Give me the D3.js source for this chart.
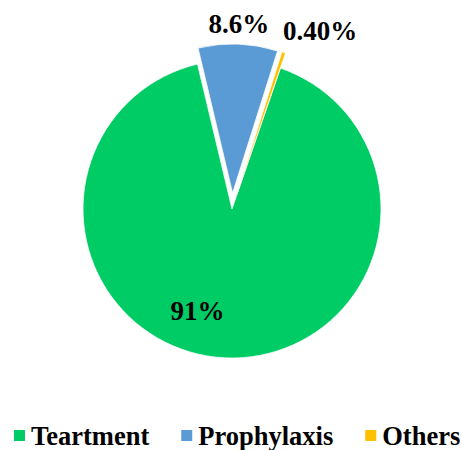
<!DOCTYPE html>
<meta charset="utf-8">
<style>
body { margin: 0; background: #fff; }
text { font-family: "Liberation Serif", "Times New Roman", serif; font-weight: bold; fill: #000; }
</style>
<body>
<script src="https://cdn.jsdelivr.net/npm/d3@7"></script>
<script>
var categories = ["Teartment", "Prophylaxis", "Others"],
    values = [91, 8.6, 0.4],
    labels = ["91%", "8.6%", "0.40%"],
    colors = ["#00CC66", "#5B9BD5", "#FFC000"];

var width = 462, height = 450,
    cx = 232, cy = 209, radius = 149,
    explode = [0, 16, 16],
    start = 19 * Math.PI / 180;

var svg = d3.select("body").append("svg")
    .attr("width", width)
    .attr("height", height);

var pie = d3.pie().sort(null).startAngle(start).endAngle(start + 2 * Math.PI);
var arcs = pie(values);
var arc = d3.arc().innerRadius(0).outerRadius(radius);

var g = svg.append("g").attr("transform", "translate(" + cx + "," + cy + ")");

function mid(d) { return (d.startAngle + d.endAngle) / 2; }

g.selectAll("path")
    .data(arcs)
  .enter().append("path")
    .attr("d", arc)
    .attr("fill", function(d, i) { return colors[i]; })
    .attr("stroke", "#fff")
    .attr("stroke-width", 0.75)
    .attr("transform", function(d, i) {
      var a = mid(d);
      return "translate(" + (Math.sin(a) * explode[i]) + "," + (-Math.cos(a) * explode[i]) + ")";
    });

// data labels (91% inside, the small ones outside)
var labelRad = [107, 186, 199],
    labelNudge = [16, 0, 8]; // degrees, to keep labels apart like the original
g.selectAll(".lbl")
    .data(arcs)
  .enter().append("text")
    .attr("class", "lbl")
    .attr("text-anchor", "middle")
    .attr("dy", "0.35em")
    .style("font-size", "27px")
    .attr("x", function(d, i) { return Math.sin(mid(d) + labelNudge[i] * Math.PI / 180) * labelRad[i]; })
    .attr("y", function(d, i) { return -Math.cos(mid(d) + labelNudge[i] * Math.PI / 180) * labelRad[i]; })
    .text(function(d, i) { return labels[i]; });

// legend
var legend = svg.append("g").attr("transform", "translate(0,436)");
var items = legend.selectAll(".item")
    .data(categories)
  .enter().append("g")
    .attr("class", "item");

items.append("rect")
    .attr("width", 11).attr("height", 11)
    .attr("y", -6)
    .attr("fill", function(d, i) { return colors[i]; });

items.append("text")
    .attr("x", 17)
    .attr("dy", "0.35em")
    .style("font-size", "26.5px")
    .text(function(d) { return d; });

var xpos = 14;
items.each(function() {
  var w = 17 + this.querySelector("text").getComputedTextLength();
  d3.select(this).attr("transform", "translate(" + xpos + ",0)");
  xpos += w + 32;
});
</script>
</body>
